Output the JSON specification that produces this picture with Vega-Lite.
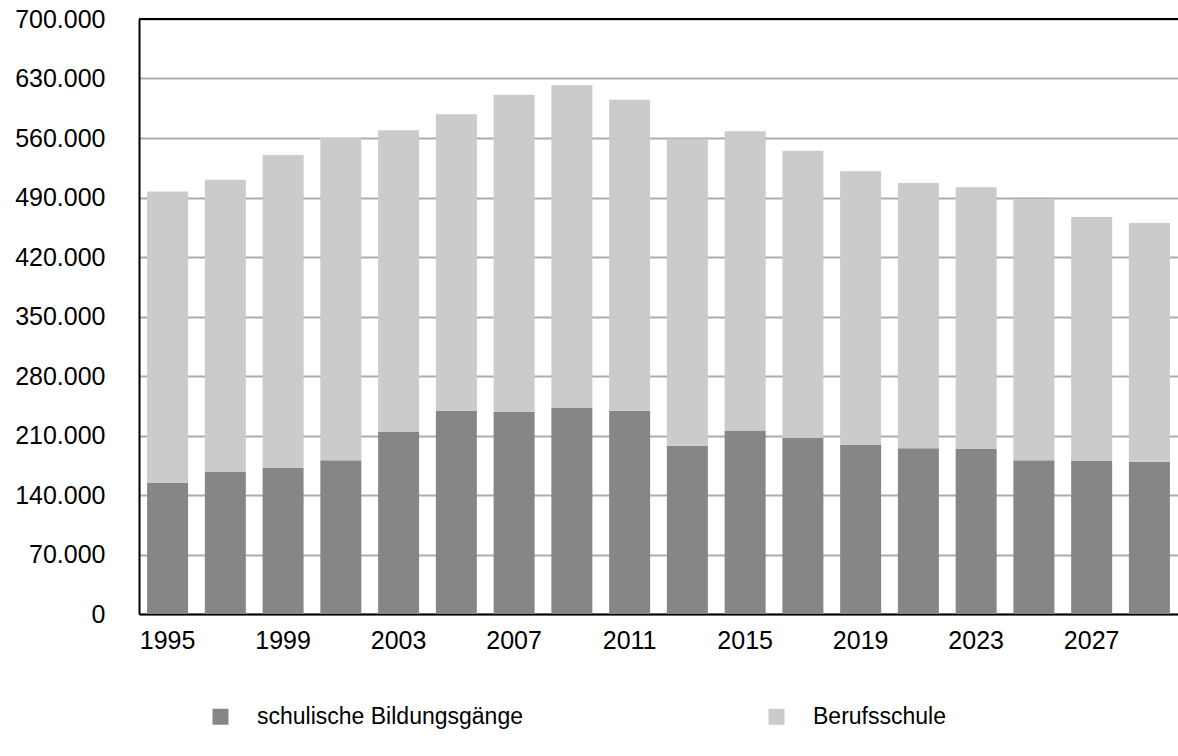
{
  "$schema": "https://vega.github.io/schema/vega-lite/v6.json",
  "autosize": {"type": "none"},
  "padding": {"left": 139, "top": 19, "right": 0, "bottom": 142},
  "width": 1039,
  "height": 595,
  "background": "white",
  "config": {
    "view": {"stroke": null},
    "font": "Liberation Sans",
    "axis": {"labelFont": "Liberation Sans", "labelColor": "black"},
    "legend": {"labelFont": "Liberation Sans", "labelColor": "black"}
  },
  "data": {
    "values": [
      {"jahr": 1995, "kategorie": "schulische Bildungsgänge", "wert": 154000},
      {"jahr": 1995, "kategorie": "Berufsschule", "wert": 343000},
      {"jahr": 1997, "kategorie": "schulische Bildungsgänge", "wert": 167000},
      {"jahr": 1997, "kategorie": "Berufsschule", "wert": 344000},
      {"jahr": 1999, "kategorie": "schulische Bildungsgänge", "wert": 172000},
      {"jahr": 1999, "kategorie": "Berufsschule", "wert": 368000},
      {"jahr": 2001, "kategorie": "schulische Bildungsgänge", "wert": 181000},
      {"jahr": 2001, "kategorie": "Berufsschule", "wert": 379000},
      {"jahr": 2003, "kategorie": "schulische Bildungsgänge", "wert": 214000},
      {"jahr": 2003, "kategorie": "Berufsschule", "wert": 355000},
      {"jahr": 2005, "kategorie": "schulische Bildungsgänge", "wert": 239000},
      {"jahr": 2005, "kategorie": "Berufsschule", "wert": 349000},
      {"jahr": 2007, "kategorie": "schulische Bildungsgänge", "wert": 238000},
      {"jahr": 2007, "kategorie": "Berufsschule", "wert": 373000},
      {"jahr": 2009, "kategorie": "schulische Bildungsgänge", "wert": 243000},
      {"jahr": 2009, "kategorie": "Berufsschule", "wert": 379000},
      {"jahr": 2011, "kategorie": "schulische Bildungsgänge", "wert": 239000},
      {"jahr": 2011, "kategorie": "Berufsschule", "wert": 366000},
      {"jahr": 2013, "kategorie": "schulische Bildungsgänge", "wert": 198000},
      {"jahr": 2013, "kategorie": "Berufsschule", "wert": 361000},
      {"jahr": 2015, "kategorie": "schulische Bildungsgänge", "wert": 216000},
      {"jahr": 2015, "kategorie": "Berufsschule", "wert": 352000},
      {"jahr": 2017, "kategorie": "schulische Bildungsgänge", "wert": 207000},
      {"jahr": 2017, "kategorie": "Berufsschule", "wert": 338000},
      {"jahr": 2019, "kategorie": "schulische Bildungsgänge", "wert": 199000},
      {"jahr": 2019, "kategorie": "Berufsschule", "wert": 322000},
      {"jahr": 2021, "kategorie": "schulische Bildungsgänge", "wert": 195000},
      {"jahr": 2021, "kategorie": "Berufsschule", "wert": 312000},
      {"jahr": 2023, "kategorie": "schulische Bildungsgänge", "wert": 194000},
      {"jahr": 2023, "kategorie": "Berufsschule", "wert": 308000},
      {"jahr": 2025, "kategorie": "schulische Bildungsgänge", "wert": 181000},
      {"jahr": 2025, "kategorie": "Berufsschule", "wert": 307000},
      {"jahr": 2027, "kategorie": "schulische Bildungsgänge", "wert": 180000},
      {"jahr": 2027, "kategorie": "Berufsschule", "wert": 287000},
      {"jahr": 2029, "kategorie": "schulische Bildungsgänge", "wert": 179000},
      {"jahr": 2029, "kategorie": "Berufsschule", "wert": 281000}
    ]
  },
  "layer": [
    {
      "mark": {"type": "bar"},
      "encoding": {
        "x": {
          "field": "jahr",
          "type": "ordinal",
          "scale": {"paddingInner": 0.29, "paddingOuter": 0.14},
          "axis": {
            "title": null,
            "values": [1995, 1999, 2003, 2007, 2011, 2015, 2019, 2023, 2027],
            "labelAngle": 0,
            "labelFontSize": 25,
            "labelPadding": 14,
            "ticks": false,
            "domainColor": "black",
            "domainWidth": 2,
            "grid": false
          }
        },
        "y": {
          "field": "wert",
          "type": "quantitative",
          "stack": "zero",
          "scale": {"domain": [0, 700000], "nice": false},
          "axis": {
            "title": null,
            "values": [0, 70000, 140000, 210000, 280000, 350000, 420000, 490000, 560000, 630000, 700000],
            "labelExpr": "replace(format(datum.value, ','), ',', '.')",
            "labelFontSize": 25,
            "labelPadding": 34,
            "ticks": false,
            "domainColor": "black",
            "domainWidth": 2,
            "grid": true,
            "gridColor": "#acacac",
            "gridWidth": 2
          }
        },
        "color": {
          "field": "kategorie",
          "type": "nominal",
          "scale": {
            "domain": ["schulische Bildungsgänge", "Berufsschule"],
            "range": ["#858685", "#cacbca"]
          },
          "legend": {
            "title": null,
            "orient": "none",
            "legendX": 70,
            "legendY": 686,
            "direction": "horizontal",
            "columns": 2,
            "columnPadding": 242,
            "symbolType": "square",
            "symbolSize": 256,
            "symbolStrokeWidth": 0,
            "symbolOpacity": 1,
            "labelFontSize": 23,
            "labelOffset": 25,
            "labelLimit": 500
          }
        },
        "order": {"field": "kategorie", "sort": "descending"}
      }
    },
    {
      "mark": {"type": "rule", "color": "black", "strokeWidth": 2},
      "encoding": {"y": {"datum": 700000, "type": "quantitative"}}
    }
  ]
}
